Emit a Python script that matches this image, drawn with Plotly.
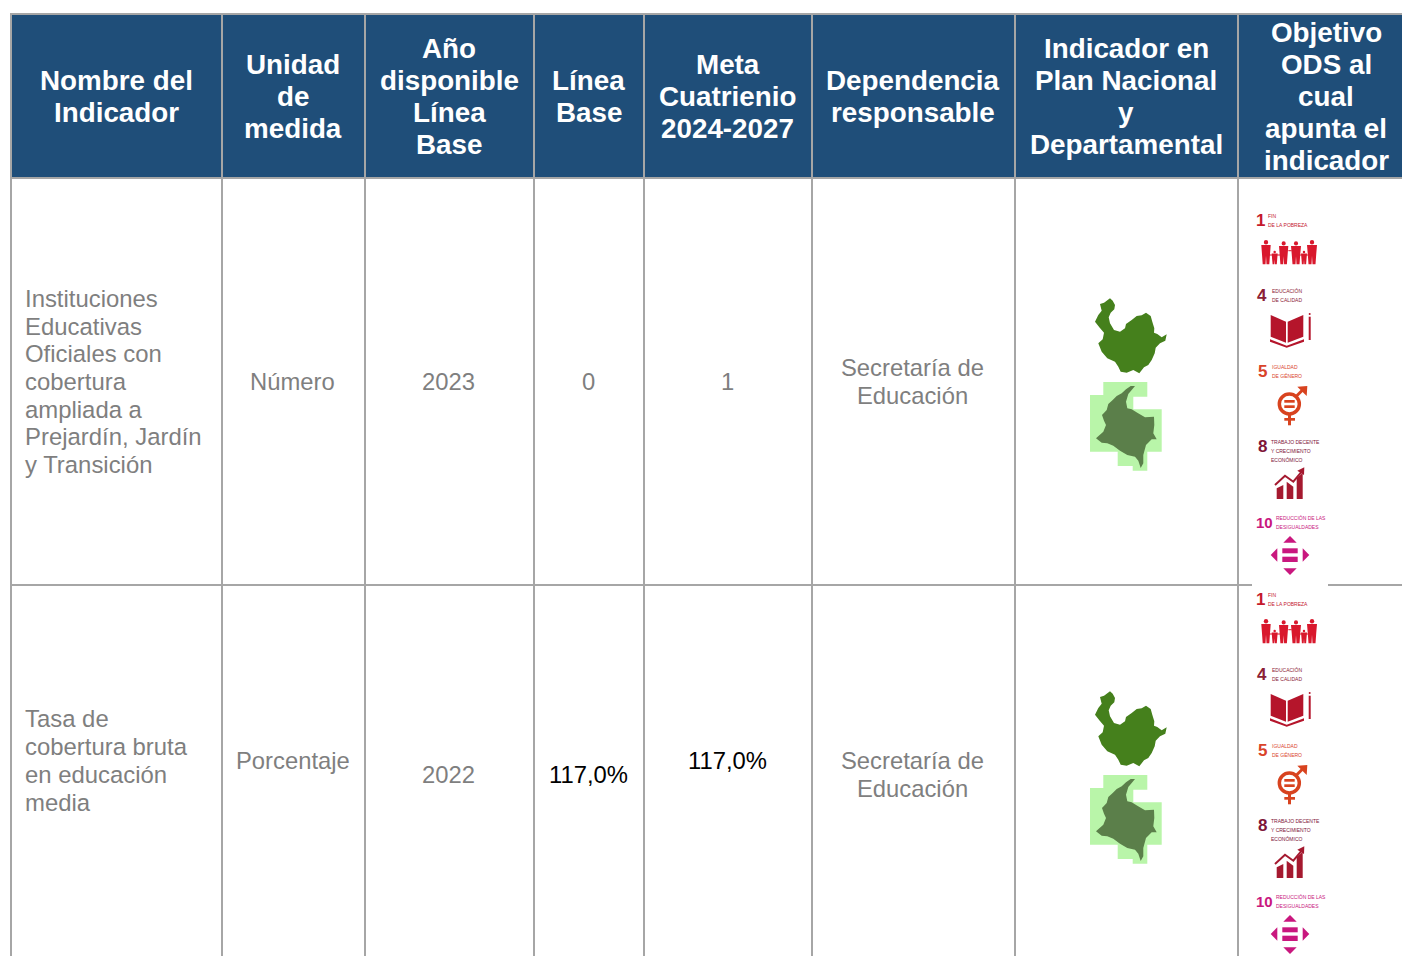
import plotly.graph_objects as go

# ---- table content ----
headers = [
    ["Nombre del", "Indicador"],
    ["Unidad", "de", "medida"],
    ["Año", "disponible", "Línea", "Base"],
    ["Línea", "Base"],
    ["Meta", "Cuatrienio", "2024-2027"],
    ["Dependencia", "responsable"],
    ["Indicador en", "Plan Nacional", "y", "Departamental"],
    ["Objetivo", "ODS al", "cual", "apunta el", "indicador"],
]
row1 = [
    ["Instituciones", "Educativas", "Oficiales con", "cobertura", "ampliada a", "Prejardín, Jardín", "y Transición"],
    ["Número"], ["2023"], ["0"], ["1"], ["Secretaría de", "Educación"],
]
row2 = [
    ["Tasa de", "cobertura bruta", "en educación", "media"],
    ["Porcentaje"], ["2022"], ["117,0%"], ["117,0%"], ["Secretaría de", "Educación"],
]
row1_dy = [0, 0, 0, 0, 0, 0]
row2_dy = [-14, -14, 0, 0, -14, 0]
row2_colors = ["#7f7f7f", "#7f7f7f", "#7f7f7f", "#000000", "#000000", "#7f7f7f"]
sdg_labels = [
    ("1", ["FIN", "DE LA POBREZA"]),
    ("4", ["EDUCACIÓN", "DE CALIDAD"]),
    ("5", ["IGUALDAD", "DE GÉNERO"]),
    ("8", ["TRABAJO DECENTE", "Y CRECIMIENTO", "ECONÓMICO"]),
    ("10", ["REDUCCIÓN DE LAS", "DESIGUALDADES"]),
]

# ---- geometry of the page ----
col_edges = [11, 222, 365, 534, 644, 812, 1015, 1238, 1414]
top, head_bottom, row1_bottom, page_w, page_h = 14, 178, 585, 1402, 956
row1_c, row2_c = 381.5, 774.5
NAVY, RULE, GREY = "#1f4e79", "#a6a6a6", "#7f7f7f"
FONT = "Liberation Sans"

shapes, notes = [], []


def txt(x, y, s, size, color, bold=False, anchor="center", family=FONT):
    notes.append(dict(x=x, y=y, xref="x", yref="y", text=f"<b>{s}</b>" if bold else s, showarrow=False,
                      xanchor=anchor, yanchor="middle", borderpad=0, borderwidth=0,
                      font=dict(family=family, size=size, color=color)))


def rect(x0, y0, x1, y1, color):
    shapes.append(dict(type="rect", x0=x0, y0=y0, x1=x1, y1=y1, fillcolor=color, line_width=0, layer="below"))


def poly(pts, color, ox, oy, closed=True, lw=0):
    p = "M " + " L ".join(f"{ox + a / 3:.1f},{oy + b / 3:.1f}" for a, b in pts) + (" Z" if closed else "")
    shapes.append(dict(type="path", path=p, fillcolor=color if closed else "rgba(0,0,0,0)",
                       line=dict(color=color, width=lw), layer="above"))


def zrect(a0, b0, a1, b1, color, ox, oy):
    poly([(a0, b0), (a1, b0), (a1, b1), (a0, b1)], color, ox, oy)


def circ(a, b, r, ox, oy, fill, line=None, lw=0):
    shapes.append(dict(type="circle", x0=ox + (a - r) / 3, x1=ox + (a + r) / 3, y0=oy + (b - r) / 3, y1=oy + (b + r) / 3,
                       fillcolor=fill, line=dict(color=line or fill, width=lw), layer="above"))


ANTIOQUIA = [(240, 372), (252, 368), (270, 355), (278, 362), (285, 375), (283, 388), (272, 398), (266, 412), (270, 430),
             (282, 450), (300, 455), (315, 445), (318, 432), (335, 420), (350, 408), (365, 406), (378, 398), (392, 408),
             (397, 425), (403, 445), (402, 458), (412, 462), (425, 472), (440, 463), (436, 482), (420, 490), (407, 503),
             (404, 520), (395, 540), (385, 555), (372, 562), (358, 580), (340, 570), (320, 578), (302, 575), (295, 560),
             (285, 545), (262, 535), (245, 515), (235, 490), (248, 478), (252, 458), (238, 442), (225, 425), (235, 405), (245, 392)]
HALO = [(250, 606), (382, 606), (382, 650), (340, 650), (340, 688), (425, 688), (425, 815), (382, 815), (382, 872),
        (338, 872), (338, 858), (293, 858), (293, 815), (210, 815), (210, 645), (250, 645)]
COLOMBIA = [(345, 618), (332, 618), (318, 628), (305, 640), (290, 648), (278, 660), (265, 672), (260, 690), (246, 705),
            (252, 722), (258, 735), (250, 755), (228, 775), (245, 788), (262, 790), (280, 797), (300, 812), (322, 825),
            (345, 830), (355, 842), (362, 864), (370, 850), (370, 825), (378, 795), (395, 778), (410, 778), (400, 760),
            (403, 735), (402, 710), (375, 712), (352, 698), (335, 688), (322, 685), (318, 665), (325, 642), (335, 630)]


def maps(dy):
    ox, oy = 1020, 180 + dy
    poly(ANTIOQUIA, "#45801c", ox, oy)
    poly(HALO, "#b9f5a9", ox, oy)
    poly(COLOMBIA, "#5b7f4a", ox, oy)


def person(a, top_b, w, h, color, ox, oy):
    circ(a, top_b + h * 0.09, h * 0.09, ox, oy, color)
    poly([(a - w, top_b + h * 0.2), (a + w, top_b + h * 0.2), (a + w * 0.85, top_b + h * 0.6), (a + w * 0.7, top_b + h),
          (a + w * 0.1, top_b + h), (a, top_b + h * 0.65), (a - w * 0.1, top_b + h), (a - w * 0.7, top_b + h),
          (a - w * 0.85, top_b + h * 0.6)], color, ox, oy)


def icons(dy):
    ox, oy = 1020, 180 + dy
    Z = lambda v: ox + v / 3
    W = lambda v: oy + v / 3
    colors = ["#c5192d", "#8b2035", "#d9432a", "#7e1538", "#c9177e"]
    num_pos = [(720, 120), (727, 347), (727, 575), (727, 800), (732, 1028)]
    lab_pos = [(743, [108, 135]), (757, [333, 360]), (757, [561, 588]), (752, [786, 813, 840]), (768, [1014, 1040])]
    for (num, labs), c, (na, nb), (la, lbs) in zip(sdg_labels, colors, num_pos, lab_pos):
        txt(Z(na), W(nb), f"{num}", 17 if num != "10" else 15, c, True)
        for s, b in zip(labs, lbs):
            txt(Z(la), W(b), s, 5, c, False, "left")
    # 1: family
    red = "#d9182d"
    for a, t, w, h in [(738, 180, 14, 73), (764, 212, 9, 41), (791, 184, 14, 69), (828, 184, 15, 69), (852, 212, 9, 41), (876, 180, 15, 73)]:
        person(a, t, w, h, red, ox, oy)
    poly([(745, 225), (790, 225)], red, ox, oy, closed=False, lw=1)
    poly([(835, 225), (875, 225)], red, ox, oy, closed=False, lw=1)
    poly([(805, 212), (815, 212)], red, ox, oy, closed=False, lw=1)
    # 4: book and pencil
    bk = "#b5152b"
    poly([(752, 405), (798, 425), (798, 488), (752, 470)], bk, ox, oy)
    poly([(803, 425), (850, 405), (850, 470), (803, 488)], bk, ox, oy)
    poly([(750, 478), (800, 497), (852, 478), (852, 485), (800, 503), (750, 485)], bk, ox, oy)
    zrect(866, 410, 872, 480, bk, ox, oy)
    circ(869, 402, 3, ox, oy, bk)
    # 5: gender symbol
    g = "#d8431f"
    circ(808, 672, 30, ox, oy, "rgba(0,0,0,0)", g, 3.5)
    zrect(793, 660, 824, 668, g, ox, oy)
    zrect(793, 676, 824, 684, g, ox, oy)
    zrect(804, 702, 813, 736, g, ox, oy)
    zrect(793, 714, 825, 722, g, ox, oy)
    poly([(826, 652), (850, 628)], g, ox, oy, closed=False, lw=3)
    poly([(832, 620), (862, 618), (860, 648)], g, ox, oy)
    # 8: growth chart
    d = "#a5192f"
    poly([(770, 925), (790, 915), (790, 957), (770, 957)], d, ox, oy)
    poly([(800, 905), (820, 920), (820, 957), (800, 957)], d, ox, oy)
    poly([(830, 895), (848, 878), (848, 957), (830, 957)], d, ox, oy)
    poly([(765, 915), (795, 887), (820, 905), (845, 875)], d, ox, oy, closed=False, lw=2)
    poly([(832, 872), (853, 862), (852, 885)], d, ox, oy)
    # 10: arrows
    m = "#c9177e"
    poly([(810, 1068), (830, 1088), (790, 1088)], m, ox, oy)
    poly([(790, 1165), (830, 1165), (810, 1185)], m, ox, oy)
    poly([(772, 1105), (772, 1145), (752, 1125)], m, ox, oy)
    poly([(848, 1105), (848, 1145), (868, 1125)], m, ox, oy)
    zrect(787, 1105, 833, 1120, m, ox, oy)
    zrect(787, 1130, 833, 1146, m, ox, oy)


# header band
rect(col_edges[0], top, page_w + 5, head_bottom, NAVY)
centers = [(a + b) / 2 - 0.5 for a, b in zip(col_edges[:-1], col_edges[1:])]
centers[-1] = 1326
for cx, lines in zip(centers, headers):
    for i, s in enumerate(lines):
        txt(cx, 96 + (i - (len(lines) - 1) / 2) * 32, s, 27.8, "#ffffff", True)

# body rows
for rc, row, dys, cols in [(row1_c, row1, row1_dy, [GREY] * 6), (row2_c, row2, row2_dy, row2_colors)]:
    for j, (lines, dy, c) in enumerate(zip(row, dys, cols)):
        base = rc + dy
        for i, s in enumerate(lines):
            y = base + (i - (len(lines) - 1) / 2) * 27.7
            if j == 0:
                txt(25.2, y, s, 23.9, c, False, "left")
            else:
                txt(centers[j] - 0.5, y, s, 23.8, c)

# grid rules
RW = 2
for x in col_edges[:-1]:
    shapes.append(dict(type="line", x0=x, x1=x, y0=top - 1, y1=page_h, line=dict(color=RULE, width=RW), layer="below"))
for y in (top, head_bottom, row1_bottom):
    shapes.append(dict(type="line", x0=col_edges[0], x1=page_w + 5, y0=y, y1=y, line=dict(color=RULE, width=RW), layer="below"))

# pictures
maps(0)
maps(393)
icons(0)
rect(1252, 584, 1328, 587, "#ffffff")
shapes[-1]["layer"] = "above"
icons(379)

fig = go.Figure()
fig.update_layout(
    width=page_w, height=page_h, margin=dict(l=0, r=0, t=0, b=0), paper_bgcolor="#ffffff", plot_bgcolor="#ffffff",
    xaxis=dict(range=[0, page_w], visible=False, fixedrange=True),
    yaxis=dict(range=[page_h, 0], visible=False, fixedrange=True),
    shapes=shapes, annotations=notes, showlegend=False,
)
fig.write_html("out.html", config=dict(displayModeBar=False),
               post_script="document.body.style.margin='0';document.body.style.overflow='hidden';")
